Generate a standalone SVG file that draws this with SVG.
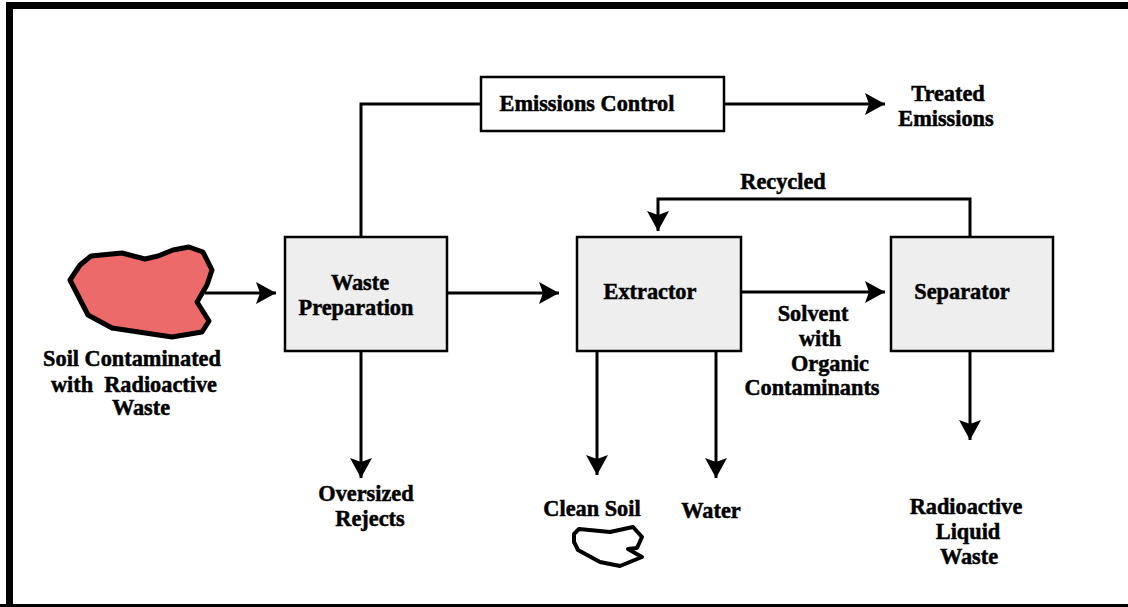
<svg xmlns="http://www.w3.org/2000/svg" width="1128" height="607" viewBox="0 0 1128 607">
<style>
text{font-family:"Liberation Serif","Times New Roman",serif;font-weight:bold;font-size:22.3px;fill:#000;text-anchor:middle;stroke:#000;stroke-width:.5px}
.box{fill:#eeeeee;stroke:#000;stroke-width:2.5}
.white{fill:#fff;stroke:#000;stroke-width:2.5}
.line{fill:none;stroke:#000;stroke-width:3}
.head{fill:#000;stroke:none}
</style>
<defs>
<marker id="arrow" markerUnits="userSpaceOnUse" markerWidth="24" markerHeight="24" refX="20" refY="11" orient="auto"><path class="head" d="M0 0 L20 11 L0 22 L4 11 Z"/></marker>
</defs>
<rect x="0" y="0" width="1128" height="607" fill="#fff"/>
<path d="M9.500 607V5.500H1128" fill="none" stroke="#000" stroke-width="7"/>
<path d="M0 605.500H1128" fill="none" stroke="#000" stroke-width="3"/>
<g id="connectors">
<path class="line" marker-end="url(#arrow)" d="M205 293H276"/>
<path class="line" marker-end="url(#arrow)" d="M448 293H559"/>
<path class="line" marker-end="url(#arrow)" d="M742 292H885"/>
<path class="line" d="M361 237V104H481"/>
<path class="line" marker-end="url(#arrow)" d="M724 104H885"/>
<path class="line" marker-end="url(#arrow)" d="M970 237V199H658V231"/>
<path class="line" marker-end="url(#arrow)" d="M361 351V478"/>
<path class="line" marker-end="url(#arrow)" d="M597 351V475"/>
<path class="line" marker-end="url(#arrow)" d="M716 351V478"/>
<path class="line" marker-end="url(#arrow)" d="M970 351V440"/>
</g>
<g id="soil-contaminated">
<path d="M70 280 L80 265 L91 256 L122 253 L145 259 L158 256 L173 250 L189 247 L203 252 L212 270 L207 285 L197 302 L209 321 L202 332 L172 337 L112 328 L88 315 Z" fill="#ec6a6a" stroke="#000" stroke-width="5" stroke-linejoin="round"/>
<text x="132" y="366">Soil Contaminated</text>
<text x="134" y="392" xml:space="preserve">with  Radioactive</text>
<text x="141" y="415">Waste</text>
</g>
<g id="emissions-control">
<rect class="white" x="481" y="77" width="243" height="54"/>
<text x="587" y="111">Emissions Control</text>
</g>
<g id="treated-emissions">
<text x="948" y="101">Treated</text>
<text x="946" y="126">Emissions</text>
</g>
<g id="waste-preparation">
<rect class="box" x="285" y="237" width="162" height="114"/>
<text x="360" y="290">Waste</text>
<text x="356" y="315">Preparation</text>
</g>
<g id="extractor">
<rect class="box" x="577" y="237" width="164" height="114"/>
<text x="650" y="299">Extractor</text>
</g>
<g id="separator">
<rect class="box" x="891" y="237" width="162" height="114"/>
<text x="962" y="299">Separator</text>
</g>
<g id="recycled"><text x="783" y="189">Recycled</text></g>
<g id="solvent">
<text x="813" y="321">Solvent</text>
<text x="820" y="346">with</text>
<text x="830" y="371">Organic</text>
<text x="812" y="395">Contaminants</text>
</g>
<g id="oversized-rejects">
<text x="366" y="501">Oversized</text>
<text x="370" y="526">Rejects</text>
</g>
<g id="clean-soil">
<text x="592" y="516">Clean Soil</text>
<path d="M574 534 L579 529 L610 532 L633 527 L642 537 L637 548 L628 549 L642 557 L620 566 L600 562 L578 550 L574 542 Z" fill="#fff" stroke="#000" stroke-width="4" stroke-linejoin="round"/>
</g>
<g id="water"><text x="711" y="518">Water</text></g>
<g id="radioactive-liquid-waste">
<text x="966" y="514">Radioactive</text>
<text x="968" y="539">Liquid</text>
<text x="969" y="564">Waste</text>
</g>
</svg>
